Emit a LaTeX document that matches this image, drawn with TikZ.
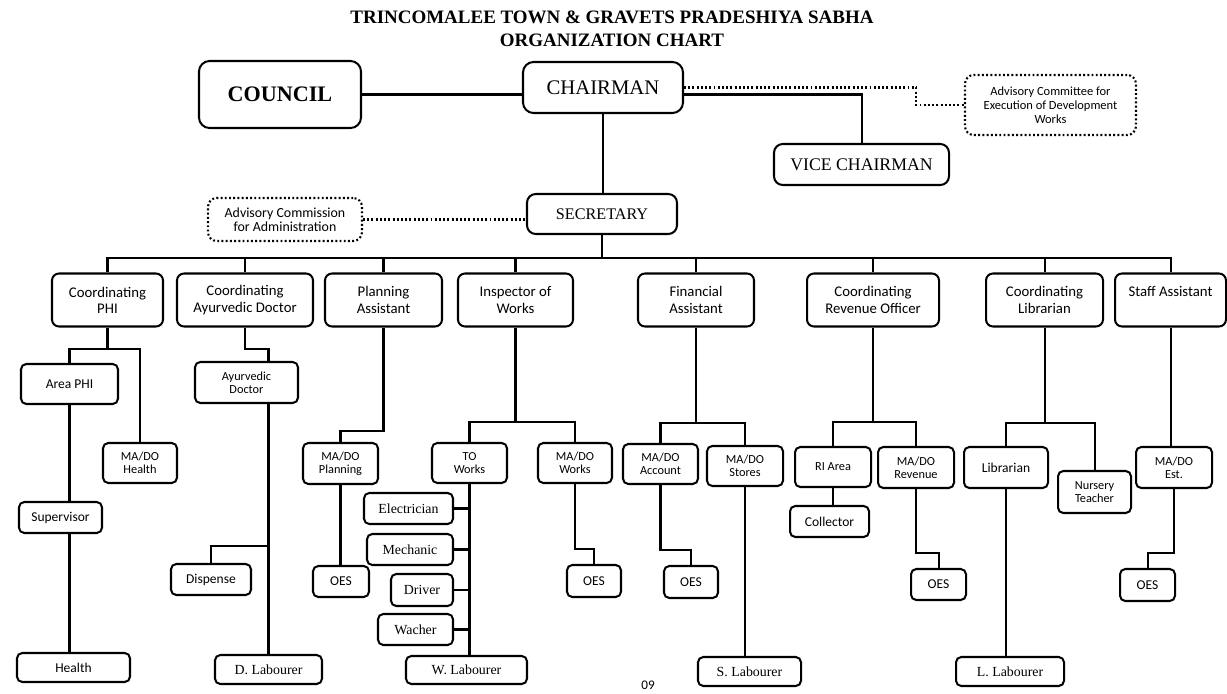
\documentclass[tikz,border=0pt]{standalone}
\usepackage{fontspec}
\setmainfont{Liberation Serif}
\newfontfamily\boxfont{Carlito}
\begin{document}
\begin{tikzpicture}[x=0.02cm,y=-0.02cm, line width=1.15pt,
  box/.style={draw, rounded corners=4pt, align=center, inner sep=1pt},
  sz/.style 2 args={minimum width=#1*0.02cm, minimum height=#2*0.02cm},
  big/.style={box, font=\fontsize{8.4}{9.2}\selectfont\boxfont},
  small/.style={box, rounded corners=3pt, font=\fontsize{7}{7.2}\selectfont\boxfont},
  one/.style={box, rounded corners=3pt, font=\fontsize{7.7}{9}\selectfont\boxfont},
  oneserif/.style={box, rounded corners=3pt, font=\fontsize{7.9}{9}\selectfont},
  dotline/.style={line width=1.2pt, dash pattern=on 1.1pt off 1.3pt},
  dotbox/.style={draw, dotline, rounded corners=5pt, align=center, inner sep=1pt, font=\fontsize{7.1}{8}\selectfont\boxfont}]
\useasboundingbox (0,0) rectangle (1227,693);
\node[font=\bfseries\fontsize{10.8}{13}\selectfont, align=center] (title) at (612,28.5) {TRINCOMALEE TOWN \& GRAVETS PRADESHIYA SABHA\\ORGANIZATION CHART};
\node[box, sz={162}{67}, rounded corners=6pt, font=\bfseries\fontsize{12.6}{14}\selectfont] (council) at (280,94.5) {COUNCIL};
\node[box, sz={160}{51}, rounded corners=6pt, font=\fontsize{11.8}{14}\selectfont] (chair) at (603,87.5) {CHAIRMAN};
\node[box, sz={175}{41}, rounded corners=5pt, font=\fontsize{10.1}{12}\selectfont] (vice) at (861.5,164.5) {VICE CHAIRMAN};
\node[box, sz={150}{40}, rounded corners=5pt, font=\fontsize{9.2}{11}\selectfont] (sec) at (602,214) {SECRETARY};
\node[dotbox, sz={171}{60}] (advdev) at (1050.5,105) {Advisory Committee for\\Execution of Development\\Works};
\node[dotbox, sz={154}{43}, font=\fontsize{7.9}{8.2}\selectfont\boxfont] (advadm) at (285,219.5) {Advisory Commission\\for Administration};

\node[big, sz={111}{53}] (phi) at (107.5,300) {Coordinating\\PHI};
\node[big, sz={136}{53}] (ayu) at (245,300) {Coordinating\\Ayurvedic Doctor};
\node[big, sz={117}{53}] (plan) at (383.5,300) {Planning\\Assistant};
\node[big, sz={115}{53}] (iow) at (515.5,300) {Inspector of\\Works};
\node[big, sz={116}{53}] (fin) at (696,300) {Financial\\Assistant};
\node[big, sz={132}{53}] (rev) at (873,300) {Coordinating\\Revenue Officer};
\node[big, sz={117}{53}] (lib) at (1044.5,300) {Coordinating\\Librarian};
\node[big, sz={111}{53}] (sa) at (1170.5,300) {Staff Assistant\\\phantom{S}};

\node[one, sz={97}{40}] (aphi) at (69.5,384) {Area PHI};
\node[small, sz={74}{40}] (mhealth) at (140,463) {MA/DO\\Health};
\node[one, sz={83}{31}] (sup) at (60.5,517.5) {Supervisor};
\node[one, sz={113}{29}] (health) at (73.5,667.5) {Health};

\node[small, sz={103}{41}] (adoc) at (246.5,382.5) {Ayurvedic\\Doctor};
\node[one, sz={80}{31}] (disp) at (211,579.5) {Dispense};
\node[oneserif, sz={107}{29}] (dlab) at (268.5,669.5) {D. Labourer};

\node[small, sz={75}{41}] (mplan) at (340.5,463.5) {MA/DO\\Planning};
\node[one, sz={56}{31}] (oesplan) at (341,581.5) {OES};

\node[small, sz={75}{40}] (tow) at (469.5,463) {TO\\Works};
\node[small, sz={74}{40}] (mworks) at (575,463) {MA/DO\\Works};
\node[oneserif, sz={89}{31}] (elec) at (408.5,508.5) {Electrician};
\node[oneserif, sz={86}{31}] (mech) at (410,549.5) {Mechanic};
\node[oneserif, sz={62}{32}] (drv) at (422,590) {Driver};
\node[oneserif, sz={75}{31}] (wach) at (415.5,629.5) {Wacher};
\node[oneserif, sz={121}{28}] (wlab) at (466.5,670) {W. Labourer};
\node[one, sz={54}{32}] (oesworks) at (594,581) {OES};

\node[small, sz={75}{40}] (macc) at (660.5,464) {MA/DO\\Account};
\node[small, sz={76}{40}] (mstore) at (745,466) {MA/DO\\Stores};
\node[one, sz={54}{32}] (oesacc) at (691,582) {OES};
\node[oneserif, sz={103}{29}] (slab) at (749.5,671.5) {S. Labourer};

\node[small, sz={76}{40}] (ria) at (833,467) {RI Area};
\node[small, sz={76}{41}] (mrev) at (916,467.5) {MA/DO\\Revenue};
\node[one, sz={79}{31}] (coll) at (829.5,521.5) {Collector};
\node[one, sz={55}{31}] (oesrev) at (938.5,584.5) {OES};

\node[one, sz={84}{41}] (libn) at (1006,467.5) {Librarian};
\node[small, sz={73}{42}] (nurs) at (1094.5,492) {Nursery\\Teacher};
\node[oneserif, sz={108}{29}] (llab) at (1010,671.5) {L. Labourer};

\node[small, sz={76}{41}] (mest) at (1174,467.5) {MA/DO\\Est.};
\node[one, sz={55}{32}] (oesest) at (1147.5,585) {OES};

\node[font=\fontsize{7.5}{8}\selectfont\boxfont] (page) at (648,685) {09};

\draw (council.east) -- (council.east -| chair.west);
\draw (chair.east |- council.east) -| (vice.north);
\draw[dotline] (chair.east) -- ++(232,0) |- (advdev.west);
\draw (chair.south) -- (chair.south |- sec.north);
\draw[dotline] (advadm.east) -- (advadm.east -| sec.west);

\coordinate (bus) at (602,258);
\draw (sec.south) -- (sec.south |- bus);
\draw (phi.north) -- (phi.north |- bus) -- (sa.north |- bus) -- (sa.north);
\foreach \n in {ayu,plan,iow,fin,rev,lib}
  \draw (\n.north) -- (\n.north |- bus);

\draw (phi.south) -- ++(0,21) -| (aphi.north) (phi.south) ++(0,21) -| (mhealth.north);
\draw (aphi.south) -- (aphi.south |- sup.north);
\draw (sup.south -| aphi.south) -- (health.north -| aphi.south);

\draw (ayu.south) -- ++(0,21) -| (dlab.north |- adoc.north);
\draw (dlab.north |- adoc.south) -- (dlab.north);
\draw (disp.north) -- ++(0,-17) -| (dlab.north);

\draw (plan.south) -- ++(0,103) -| (mplan.north);
\draw (mplan.south) -- (mplan.south |- oesplan.north);

\draw (iow.south) -- ++(0,94) -| (tow.north) (iow.south) ++(0,94) -| (mworks.north);
\draw (tow.south) -- (tow.south |- wlab.north);
\foreach \n in {elec,mech,drv,wach}
  \draw (\n.east) -- (\n.east -| tow.south);
\draw (mworks.south) -- ++(0,65) -| (oesworks.north);

\draw (fin.south) -- ++(0,95) -| (macc.north) (fin.south) ++(0,95) -| (mstore.north);
\draw (macc.south) -- ++(0,65) -| (oesacc.north);
\draw (mstore.south) -- (mstore.south |- slab.north);

\draw (rev.south) -- ++(0,94) -| (ria.north) (rev.south) ++(0,94) -| (mrev.north);
\draw (ria.south) -- (ria.south |- coll.north);
\draw (mrev.south) -- ++(0,64) -| (oesrev.north);

\draw (lib.south) -- ++(0,95) -| (libn.north) (lib.south) ++(0,95) -| (nurs.north);
\draw (libn.south) -- (libn.south |- llab.north);

\draw (sa.south) -- (sa.south |- mest.north);
\draw (mest.south) -- ++(0,64) -| (oesest.north);
\end{tikzpicture}
\end{document}
